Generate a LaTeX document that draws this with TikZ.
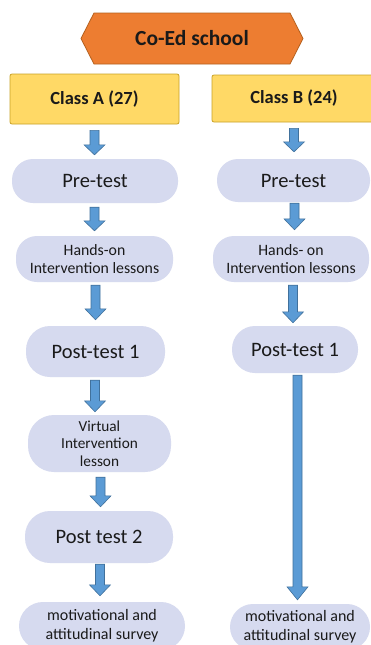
\documentclass[tikz,border=0pt]{standalone}
\usepackage{fontspec}
\setmainfont{Carlito}
\usetikzlibrary{calc}
\definecolor{hexfill}{HTML}{ED7D31}
\definecolor{hexdraw}{HTML}{B5611F}
\definecolor{classfill}{HTML}{FFD966}
\definecolor{classdraw}{HTML}{C9A227}
\definecolor{ovalfill}{HTML}{D6DAEF}
\definecolor{arrfill}{HTML}{5B9BD5}
\definecolor{arrdraw}{HTML}{41719C}
\definecolor{txt}{HTML}{1A1A1A}
\tikzset{
  classbox/.style={draw=classdraw, fill=classfill, line width=0.8pt, rounded corners=2pt, inner sep=0pt, text=txt, font=\bfseries\fontsize{18.5}{22}\selectfont},
  oval/.style={fill=ovalfill, inner sep=0pt, align=center, text=txt, rounded corners=21pt},
  bigtxt/.style={font=\fontsize{20.5}{24}\selectfont},
  smalltxt/.style={font=\fontsize{15.8}{18.5}\selectfont},
  blockarrow/.style={fill=arrfill, draw=arrdraw, line width=0.6pt, line join=miter},
}
% #1 source node, #2 target node, #3 x offset, #4 start gap, #5 end gap, #6 head length
\newcommand\barrow[6]{%
  \path[blockarrow] let \p1=(#1.south), \p2=(#2.north) in
   ({\x1+(#3pt)-4.5pt},{\y1-#4pt}) -- ({\x1+(#3pt)+4.5pt},{\y1-#4pt})
   -- ({\x1+(#3pt)+4.5pt},{\y2+#5pt+#6pt}) -- ({\x1+(#3pt)+10.5pt},{\y2+#5pt+#6pt})
   -- ({\x1+(#3pt)},{\y2+#5pt}) -- ({\x1+(#3pt)-10.5pt},{\y2+#5pt+#6pt})
   -- ({\x1+(#3pt)-4.5pt},{\y2+#5pt+#6pt}) -- cycle;}
\begin{document}
\begin{tikzpicture}[x=1pt,y=-1pt]
\useasboundingbox (0,0) rectangle (371,645);
\clip (0,0) rectangle (371,645);
\fill[white] (0,0) rectangle (371,645);
% hexagon
\draw[fill=hexfill, draw=hexdraw, line width=0.8pt, line join=miter]
  (81,38.5) -- (94,13) -- (290,13) -- (303,38.5) -- (290,64) -- (94,64) -- cycle;
\node[text=txt, font=\bfseries\fontsize{21.5}{25}\selectfont] (school) at (192,38.5) {Co-Ed school};
% class boxes
\node[classbox, minimum width=169pt, minimum height=50pt] (classA) at (94.5,99) {Class A (27)};
\node[classbox, minimum width=164pt, minimum height=47pt] (classB) at (294,98.5) {Class B (24)};
% left column
\node[oval, bigtxt, minimum width=166pt, minimum height=44pt] (preA) at (95,181) {Pre-test};
\node[oval, smalltxt, minimum width=157pt, minimum height=46pt] (handsA) at (94.5,259) {Hands-on\\Intervention lessons};
\node[oval, bigtxt, minimum width=139pt, minimum height=51pt, rounded corners=24pt] (post1A) at (95.5,351.5) {Post-test 1};
\node[oval, smalltxt, minimum width=143pt, minimum height=57pt, rounded corners=26pt, font=\fontsize{15.3}{17.5}\selectfont] (virtA) at (99.5,443.5) {Virtual\\Intervention\\lesson};
\node[oval, bigtxt, minimum width=148pt, minimum height=52pt, rounded corners=25pt] (post2A) at (99,537) {Post test 2};
\node[oval, smalltxt, minimum width=166pt, minimum height=48pt, rounded corners=24pt, font=\fontsize{16}{19}\selectfont] (survA) at (102,626) {motivational and\\attitudinal survey};
% right column
\node[oval, bigtxt, minimum width=153pt, minimum height=43pt] (preB) at (293.5,180.5) {Pre-test};
\node[oval, smalltxt, minimum width=156pt, minimum height=46pt] (handsB) at (291,259) {Hands- on\\Intervention lessons};
\node[oval, bigtxt, minimum width=126pt, minimum height=47pt, rounded corners=23pt] (post1B) at (295,349.5) {Post-test 1};
\node[oval, smalltxt, minimum width=140pt, minimum height=46pt, rounded corners=23pt, font=\fontsize{16}{19}\selectfont] (survB) at (300,627) {motivational and\\attitudinal survey};
% arrows left
\barrow{classA}{preA}{0}{6}{4}{10}
\barrow{preA}{handsA}{-0.5}{4}{5}{10}
\barrow{handsA}{post1A}{1}{3}{6}{11}
\barrow{post1A}{virtA}{-0.5}{3}{3}{11}
\barrow{virtA}{post2A}{1}{5}{4}{11}
\barrow{post2A}{survA}{1}{1}{6}{11}
% arrows right
\barrow{classB}{preB}{0}{6}{7}{10}
\barrow{preB}{handsB}{1}{1}{6}{11}
\barrow{handsB}{post1B}{2}{3}{3}{11}
\barrow{post1B}{survB}{2.5}{2}{4}{13}
\end{tikzpicture}
\end{document}
